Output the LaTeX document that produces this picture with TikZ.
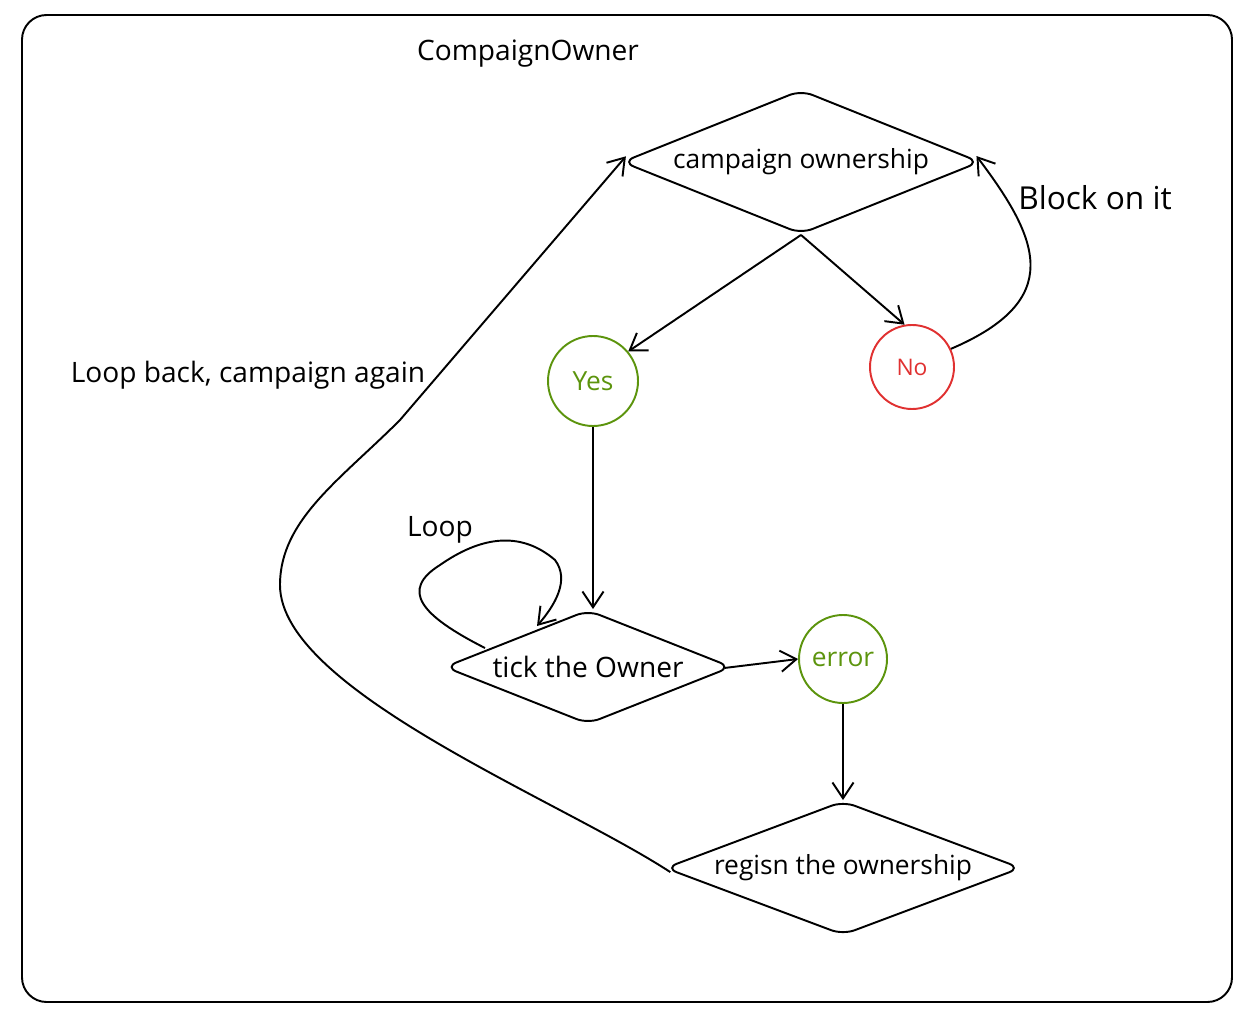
\documentclass[tikz,border=0pt]{standalone}
\usepackage{fontspec}
\setmainfont{Open Sans}
\usetikzlibrary{shapes.geometric,arrows.meta}
\definecolor{grn}{HTML}{5C940D}
\definecolor{rd}{HTML}{E03131}
\tikzset{
  base/.style={line width=1.1pt, draw=black},
  dia/.style={base, diamond, inner sep=0pt, rounded corners=7pt, font=\fontsize{15}{18}\selectfont},
  circ/.style={circle, line width=1.1pt, inner sep=0pt, minimum size=#1, font=\fontsize{15}{18}\selectfont},
  arr/.style={line width=1.1pt, -{Straight Barb[length=9pt,width=12pt,line width=1.1pt]}},
  lbl/.style={font=\fontsize{16}{19}\selectfont, inner sep=0pt},
  tipin/.style={shorten >=-0.15cm},
  tipout/.style={shorten <=-0.15cm}
}
\begin{document}
\begin{tikzpicture}[x=0.02cm,y=-0.02cm]
\useasboundingbox (0,0) rectangle (1250,1030);
\draw[base, rounded corners=14pt] (22,15) rectangle (1232,1002);
\node[lbl] (title) at (528,54) {CompaignOwner};

\node[dia, aspect=2.5, minimum width=358*0.02cm, minimum height=144*0.02cm] (camp) at (801,162) {campaign ownership};
\node[circ=90*0.02cm, draw=grn, text=grn] (yes) at (593,381) {Yes};
\node[circ=84*0.02cm, draw=rd, text=rd, font=\fontsize{13}{16}\selectfont] (no) at (912,367) {No};
\node[dia, aspect=2.5, minimum width=287*0.02cm, minimum height=114*0.02cm, font=\fontsize{16}{19}\selectfont] (tick) at (588,667) {tick the Owner};
\node[circ=88*0.02cm, draw=grn, text=grn] (err) at (843,659) {error};
\node[dia, aspect=2.65, minimum width=356*0.02cm, minimum height=134*0.02cm] (reg) at (843,868) {regisn the ownership};

\node[lbl, font=\fontsize{18}{21}\selectfont] (block) at (1095,198) {Block on it};
\node[lbl] (looplbl) at (440,530) {Loop};
\node[lbl] (backlbl) at (248,375) {Loop back, campaign again};

\draw[arr] (camp.south) -- (yes.40);
\draw[arr] (camp.south) -- (no.100);
\draw[arr, tipin] (no.25) .. controls (1065,300) and (1040,240) .. (camp.east);
\draw[arr] (yes.south) -- (yes.south |- tick.north);
\coordinate (ls) at (485,648);
\coordinate (le) at (537,626);
\draw[arr] (ls) .. controls (420,615) and (400,590) .. (440,565) .. controls (480,537) and (520,530) .. (555,560) .. controls (570,580) and (555,605) .. (le);
\draw[arr, tipout] (tick.east) -- (err.west);
\draw[arr] (err.south) -- (reg.north);
\draw[arr, tipout, tipin] (reg.west) .. controls (560,800) and (280,690) .. (280,585) .. controls (280,520) and (340,480) .. (400,420) -- (camp.west);
\end{tikzpicture}
\end{document}
